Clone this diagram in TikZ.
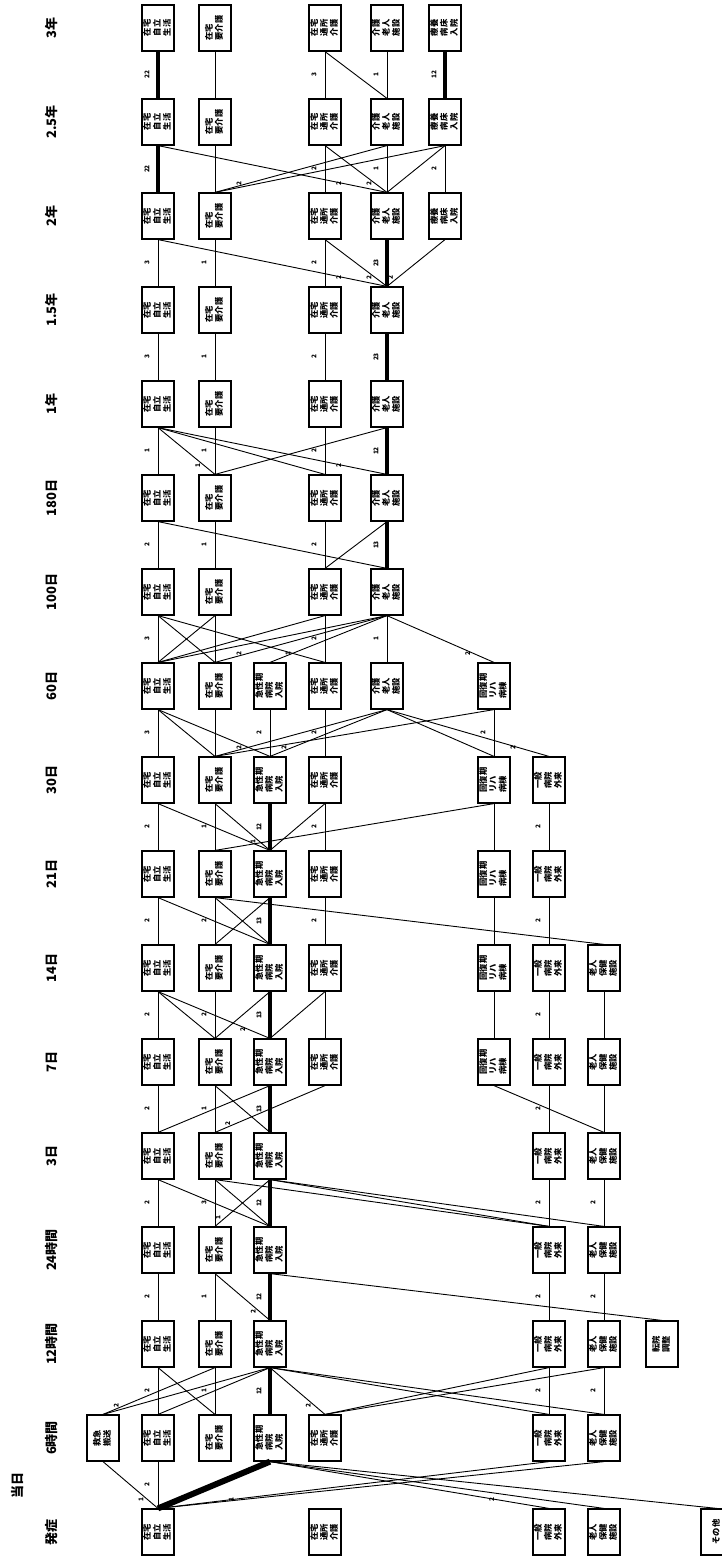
\documentclass[tikz,border=0pt]{standalone}
\usepackage{fontspec}
\usepackage{graphicx}
\setmainfont{Noto Sans CJK JP}
\begin{document}
\begin{tikzpicture}[x=1pt,y=-1pt,
  box/.style={draw,line width=1.2pt,fill=white,minimum width=32pt,minimum height=46pt,inner sep=0pt,font=\fontsize{8.3}{9.4}\selectfont\bfseries},
  tlab/.style={rotate=90,font=\fontsize{13}{13}\selectfont\bfseries,inner sep=0pt},
  ln/.style={line width=0.9pt},
  tk/.style={line width=3.6pt},
  vtk/.style={line width=6pt},
  lbl/.style={rotate=90,font=\fontsize{6.5}{6.5}\selectfont\bfseries,inner sep=0.5pt}
]
\useasboundingbox (0,0) rectangle (722,1557);
\fill[white] (0,0) rectangle (722,1557);
\def\xA{158}\def\xB{215}\def\xC{270}\def\xD{325}\def\xE{387}\def\xF{445}
\def\xG{494}\def\xH{549}\def\xI{604}\def\xJ{662}\def\xK{717}\def\xL{103}
\def\tA{在宅\\自立\\生活}
\def\tB{在宅\\要介護}
\def\tC{急性期\\病院\\入院}
\def\tD{在宅\\通所\\介護}
\def\tE{介護\\老人\\施設}
\def\tF{療養\\病床\\入院}
\def\tG{回復期\\リハ\\病棟}
\def\tH{一般\\病院\\外来}
\def\tI{老人\\保健\\施設}
\def\tJ{転院\\調整}
\def\tK{その他}
\def\tL{救急\\搬送}
% nodes
\foreach \r/\ls in {0/{A,B,D,E,F},1/{A,B,D,E,F},2/{A,B,D,E,F},3/{A,B,D,E},4/{A,B,D,E},
  5/{A,B,D,E},6/{A,B,D,E},7/{A,B,C,D,E,G},8/{A,B,C,D,G,H},9/{A,B,C,D,G,H},
  10/{A,B,C,D,G,H,I},11/{A,B,C,D,G,H,I},12/{A,B,C,H,I},13/{A,B,C,H,I},
  14/{A,B,C,H,I,J},15/{L,A,B,C,D,H,I},16/{A,D,H,I,K}}{
  \foreach \l in \ls {
    \node[box] (\l\r) at ({\csname x\l\endcsname},{28+94*\r})
      {\rotatebox{90}{\begin{tabular}{@{}l@{}}\csname t\l\endcsname\end{tabular}}};
  }
}
% time labels
\foreach \r/\t in {0/3年,1/2.5年,2/2年,3/1.5年,4/1年,5/180日,6/100日,7/60日,8/30日,
  9/21日,10/14日,11/7日,12/3日,13/24時間,14/12時間,15/6時間,16/発症}{
  \node[tlab] (T\r) at (52,{28+94*\r}) {\t};
}
\node[tlab] (Tday) at (18,1485) {当日};
% thin verticals
\foreach \a/\b/\t in {B0/B1/{},D0/D1/3,E0/E1/1,
  B1/B2/{},D1/D2/2,E1/E2/1,F1/F2/2,
  A2/A3/3,B2/B3/1,D2/D3/2,
  A3/A4/3,B3/B4/1,D3/D4/2,
  A4/A5/1,B4/B5/1,D4/D5/2,
  A5/A6/2,B5/B6/1,D5/D6/2,
  A6/A7/3,B6/B7/{},D6/D7/2,E6/E7/1,
  A7/A8/3,B7/B8/{},C7/C8/2,D7/D8/2,G7/G8/2,
  A8/A9/2,B8/B9/1,D8/D9/2,G8/G9/{},H8/H9/2,
  A9/A10/2,B9/B10/2,D9/D10/2,G9/G10/{},H9/H10/2,
  A10/A11/2,B10/B11/2,D10/D11/{},G10/G11/{},H10/H11/2,I10/I11/{},
  A11/A12/2,B11/B12/1,H11/H12/2,I11/I12/{},
  A12/A13/2,B12/B13/3,H12/H13/2,I12/I13/2,
  A13/A14/2,B13/B14/1,H13/H14/2,I13/I14/2,
  A14/A15/2,B14/B15/1,H14/H15/2,I14/I15/2,
  A15/A16/2}{
  \draw[ln] (\a.south) -- (\b.north) coordinate[pos=0.5] (m);
  \node[lbl] at ([xshift=-11pt]m) {\t};
}
% thick verticals
\foreach \a/\b/\t in {A0/A1/22,F0/F1/12,A1/A2/22,E2/E3/23,E3/E4/23,E4/E5/12,E5/E6/13,
  C8/C9/12,C9/C10/13,C10/C11/13,C11/C12/13,C12/C13/12,C13/C14/12,C14/C15/12}{
  \draw[tk] (\a.south) -- (\b.north) coordinate[pos=0.5] (m);
  \node[lbl] at ([xshift=-11pt]m) {\t};
}
% diagonals
\foreach \a/\b/\t in {D0/E1/{},A1/E2/2,D1/E2/2,F1/E2/{},E1/B2/2,F1/B2/{},
  A2/E3/2,D2/E3/2,F2/E3/2,
  A4/B5/1,A4/D5/{},A4/E5/2,E4/B5/{},
  A5/E6/{},E5/D6/{},
  A6/B7/{},B6/A7/{},A6/D7/1,D6/A7/{},E6/A7/{},E6/B7/2,E6/C7/{},E6/G7/2,
  A7/B8/{},A7/C8/{},E7/B8/2,E7/C8/2,G7/B8/{},E7/G8/{},E7/H8/2,
  A8/C9/{},B8/C9/1,D8/C9/{},G8/B9/{},
  A9/C10/{},B9/C10/{},C9/B10/{},B9/I10/{},
  A10/B11/{},A10/C11/2,C10/B11/{},D10/C11/{},
  B11/C12/{},C11/A12/{},D11/B12/2,G11/I12/{},
  A12/C13/{},B12/C13/{},C12/B13/1,B12/H13/{},C12/H13/{},C12/I13/{},
  B13/C14/2,C13/J14/{},
  A14/B15/{},B14/L15/2,C14/L15/{},C14/A15/{},C14/D15/2,C14/H15/{},C14/I15/{},H14/D15/{},I14/D15/{},
  L15/A16/1,H15/A16/{},I15/A16/1,C15/H16/2,C15/I16/{},C15/K16/{}}{
  \draw[ln] (\a.south) -- (\b.north) coordinate[pos=0.82] (m);
  \node[lbl] at ([xshift=-7pt]m) {\t};
}
\draw[vtk] (C15.south) -- (A16.north);
\end{tikzpicture}
\end{document}
